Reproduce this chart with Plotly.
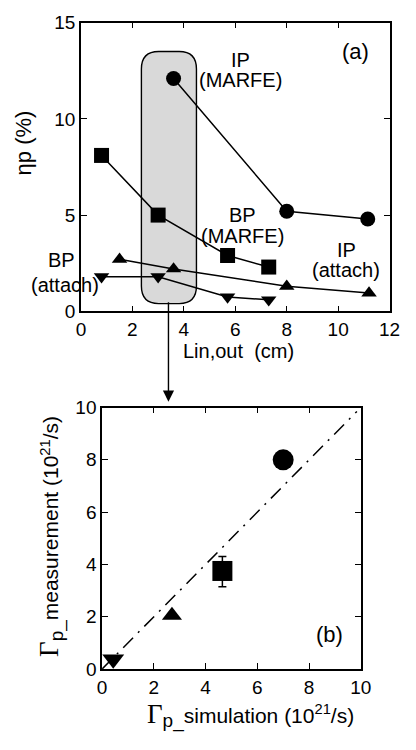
import plotly.graph_objects as go

# ---- data: panel (a) ----
ip_marfe_x = [3.6, 8.0, 11.15]
ip_marfe_y = [12.1, 5.2, 4.8]
bp_marfe_x = [0.8, 3.0, 5.7, 7.3]
bp_marfe_y = [8.1, 5.0, 2.9, 2.3]
ip_att_x = [1.5, 3.6, 8.0, 11.2]
ip_att_y = [2.7, 2.2, 1.3, 0.95]
bp_att_x = [0.8, 3.0, 5.7, 7.3]
bp_att_y = [1.8, 1.8, 0.75, 0.6]

# ---- data: panel (b) ----
circ_b = ([7.0], [8.0])
sq_b = ([4.65], [3.75])
sq_err_plus = [0.55]
sq_err_minus = [0.6]
tri_up_b = ([2.7], [2.05])
tri_dn_b = ([0.43], [0.37])
fit_x = [0.0, 9.85]
fit_y = [0.0, 9.85]

FONT = "Liberation Sans, Arial, Helvetica, sans-serif"
SERIF = "Liberation Serif, Times New Roman, serif"
W, H = 416, 750

fig = go.Figure()
ln = dict(color="black", width=1.5)
mk = lambda s, sz: dict(symbol=s, size=sz, color="black", line=dict(width=0))

fig.add_trace(go.Scatter(x=ip_marfe_x, y=ip_marfe_y, mode="lines+markers", line=ln, marker=mk("circle", 15), xaxis="x", yaxis="y", cliponaxis=False))
fig.add_trace(go.Scatter(x=bp_marfe_x, y=bp_marfe_y, mode="lines+markers", line=ln, marker=mk("square", 15), xaxis="x", yaxis="y", cliponaxis=False))
fig.add_trace(go.Scatter(x=ip_att_x, y=ip_att_y, mode="lines+markers", line=ln, marker=mk("triangle-up", 13.5), xaxis="x", yaxis="y", cliponaxis=False))
fig.add_trace(go.Scatter(x=bp_att_x, y=bp_att_y, mode="lines+markers", line=ln, marker=mk("triangle-down", 13.5), xaxis="x", yaxis="y", cliponaxis=False))

fig.add_trace(go.Scatter(x=fit_x, y=fit_y, mode="lines", line=dict(color="black", width=1.5, dash="14px,7px,2px,7px"), xaxis="x2", yaxis="y2"))
fig.add_trace(go.Scatter(x=circ_b[0], y=circ_b[1], mode="markers", marker=mk("circle", 21), xaxis="x2", yaxis="y2", cliponaxis=False))
fig.add_trace(go.Scatter(x=sq_b[0], y=sq_b[1], mode="markers", marker=mk("square", 20),
                         error_y=dict(type="data", array=sq_err_plus, arrayminus=sq_err_minus, color="black", thickness=1.5, width=4),
                         xaxis="x2", yaxis="y2", cliponaxis=False))
fig.add_trace(go.Scatter(x=tri_up_b[0], y=tri_up_b[1], mode="markers", marker=mk("triangle-up", 17.5), xaxis="x2", yaxis="y2", cliponaxis=False))
fig.add_trace(go.Scatter(x=tri_dn_b[0], y=tri_dn_b[1], mode="markers", marker=mk("triangle-down", 19), xaxis="x2", yaxis="y2", cliponaxis=False))

axis_common = dict(showline=True, linecolor="black", linewidth=1.6, mirror="ticks",
                   ticks="inside", ticklen=6, tickwidth=1.4, tickcolor="black",
                   showgrid=False, zeroline=False, tickfont=dict(family=FONT, size=19, color="black"))

fig.update_layout(
    width=W, height=H, margin=dict(l=0, r=0, t=0, b=0),
    paper_bgcolor="white", plot_bgcolor="white", showlegend=False,
    font=dict(family=FONT, color="black"),
    xaxis=dict(domain=[79 / W, 400 / W], range=[0, 12], dtick=2, anchor="y", **axis_common),
    yaxis=dict(domain=[(H - 310) / H, (H - 13) / H], range=[0, 15], dtick=5, anchor="x", **axis_common),
    xaxis2=dict(domain=[101 / W, 370 / W], range=[0, 10], dtick=2, anchor="y2", **axis_common),
    yaxis2=dict(domain=[(H - 678) / H, (H - 409) / H], range=[0, 10], dtick=2, anchor="x2", **axis_common),
)

# rounded shaded box
x0, x1, y0, y1, rx, ry = 2.35, 4.49, 0.4, 13.5, 0.67, 0.91
path = (f"M {x0+rx},{y0} L {x1-rx},{y0} Q {x1},{y0} {x1},{y0+ry} L {x1},{y1-ry} "
        f"Q {x1},{y1} {x1-rx},{y1} L {x0+rx},{y1} Q {x0},{y1} {x0},{y1-ry} "
        f"L {x0},{y0+ry} Q {x0},{y0} {x0+rx},{y0} Z")
fig.add_shape(type="path", path=path, xref="x", yref="y", fillcolor="#d9d9d9",
              line=dict(color="black", width=1.4), layer="below")

ann = []
def txt(xp, yp, t, size=20, angle=0):
    ann.append(dict(x=xp / W, y=(H - yp) / H, xref="paper", yref="paper", text=t, showarrow=False,
                    xanchor="center", yanchor="middle",
                    textangle=angle, font=dict(family=FONT, size=size, color="black"), align="center"))

txt(245, 51, "IP")
txt(245, 72, "(MARFE)")
txt(365, 43, "(a)", size=22)
txt(247, 211, "BP")
txt(247, 232, "(MARFE)")
txt(355, 247, "IP")
txt(355, 268, "(attach)")
txt(59, 257, "BP")
txt(62, 283, "(attach)")
txt(243, 351, "Lin,out  (cm)")
txt(19, 137, "ηp (%)", size=22, angle=-90)
txt(337, 642, "(b)", size=22)
G = f"<span style='font-family:{SERIF};font-size:27px'>Γ</span><sub><span style='font-size:19px'>p_</span></sub>"
txt(255, 726, G + "simulation (10<sup>21</sup>/s)", size=21)
txt(48, 542, G + "measurement (10<sup>21</sup>/s)", size=21, angle=-90)

# arrow from box down to panel (b)
ann.append(dict(x=170 / W, y=(H - 403) / H, xref="paper", yref="paper", ax=0, ay=-101, axref="pixel", ayref="pixel",
                showarrow=True, arrowhead=2, arrowsize=1.6, arrowwidth=1.4, arrowcolor="black", text=""))
fig.update_layout(annotations=ann)

fig.write_html("out.html")
